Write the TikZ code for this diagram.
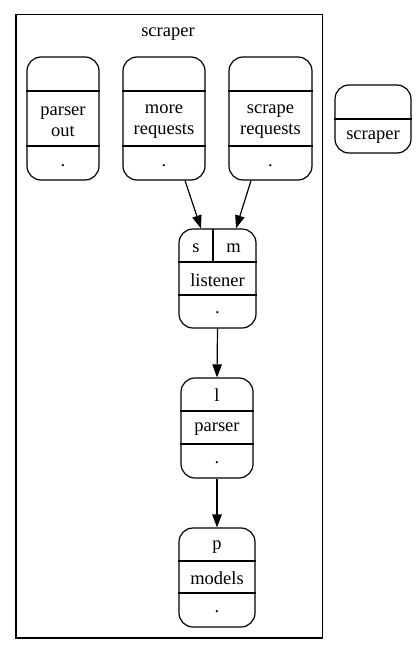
\documentclass[tikz,border=0pt]{standalone}
\usepackage{fontspec}
\setmainfont{Liberation Serif}
\usetikzlibrary{arrows.meta,calc}
\begin{document}
\begin{tikzpicture}[x=1pt,y=-1pt,
  rec/.style={draw, line width=1.2pt, rounded corners=14pt, inner sep=0pt},
  txt/.style={inner sep=0pt, align=center, font=\fontsize{18.5}{21}\selectfont},
  div/.style={line width=1.2pt},
  edge/.style={line width=1.2pt, -{Triangle[length=13pt,width=9.5pt]}},
  cluster/.style={draw, line width=1.2pt, inner sep=0pt}]
\useasboundingbox (0,0) rectangle (416,656);
% cluster
\node[cluster, minimum width=306.5pt, minimum height=623.3pt] (cl) at (169.25,326.35) {};
\node[txt] (cltitle) at (168,34) {scraper};
% parser out
\node[rec, minimum width=72pt, minimum height=123pt] (po) at (63,118.5) {};
\draw[div] (po.west |- 0,91) -- (po.east |- 0,91);
\draw[div] (po.west |- 0,146) -- (po.east |- 0,146);
\node[txt] (pot) at (63,122) {parser\\out};
\node[txt] (pod) at (63,166) {.};
% more requests
\node[rec, minimum width=82pt, minimum height=123pt] (mr) at (164,118.5) {};
\draw[div] (mr.west |- 0,91) -- (mr.east |- 0,91);
\draw[div] (mr.west |- 0,146) -- (mr.east |- 0,146);
\node[txt] (mrt) at (164,122) {more\\requests};
\node[txt] (mrd) at (164,166) {.};
% scrape requests
\node[rec, minimum width=83pt, minimum height=123pt] (sr) at (270.5,118.5) {};
\draw[div] (sr.west |- 0,91) -- (sr.east |- 0,91);
\draw[div] (sr.west |- 0,146) -- (sr.east |- 0,146);
\node[txt] (srt) at (270.5,122) {scrape\\requests};
\node[txt] (srd) at (270.5,166) {.};
% right scraper
\node[rec, minimum width=76pt, minimum height=68pt] (rs) at (373,119) {};
\draw[div] (rs.west |- 0,119) -- (rs.east |- 0,119);
\node[txt] (rst) at (373,137) {scraper};
% listener
\node[rec, minimum width=77pt, minimum height=99pt] (li) at (217.5,278.5) {};
\draw[div] (li.west |- 0,262) -- (li.east |- 0,262);
\draw[div] (li.west |- 0,295) -- (li.east |- 0,295);
\draw[div] (213,229) -- (213,262);
\node[txt] (lis) at (196,248) {s};
\node[txt] (lim) at (233.5,248) {m};
\node[txt] (lit) at (217.5,280) {listener};
\node[txt] (lid) at (217.5,313) {.};
% parser
\node[rec, minimum width=72pt, minimum height=100pt] (pa) at (217,428) {};
\draw[div] (pa.west |- 0,411) -- (pa.east |- 0,411);
\draw[div] (pa.west |- 0,444) -- (pa.east |- 0,444);
\node[txt] (pal) at (217,395) {l};
\node[txt] (pat) at (217,429) {parser};
\node[txt] (pad) at (217,463) {.};
% models
\node[rec, minimum width=76pt, minimum height=99pt] (mo) at (217,577.5) {};
\draw[div] (mo.west |- 0,561) -- (mo.east |- 0,561);
\draw[div] (mo.west |- 0,593) -- (mo.east |- 0,593);
\node[txt] (mop) at (217,547) {p};
\node[txt] (mot) at (217,578) {models};
\node[txt] (mod) at (217,612) {.};
% edges
\draw[edge] ($(mr.south)+(21,0)$) -- ($(li.north)+(-16.5,0)$);
\draw[edge] ($(sr.south)+(-19.5,0)$) -- ($(li.north)+(18.5,0)$);
\draw[edge] (li.south) -- (pa.north);
\draw[edge] (pa.south) -- (mo.north);
\end{tikzpicture}
\end{document}
